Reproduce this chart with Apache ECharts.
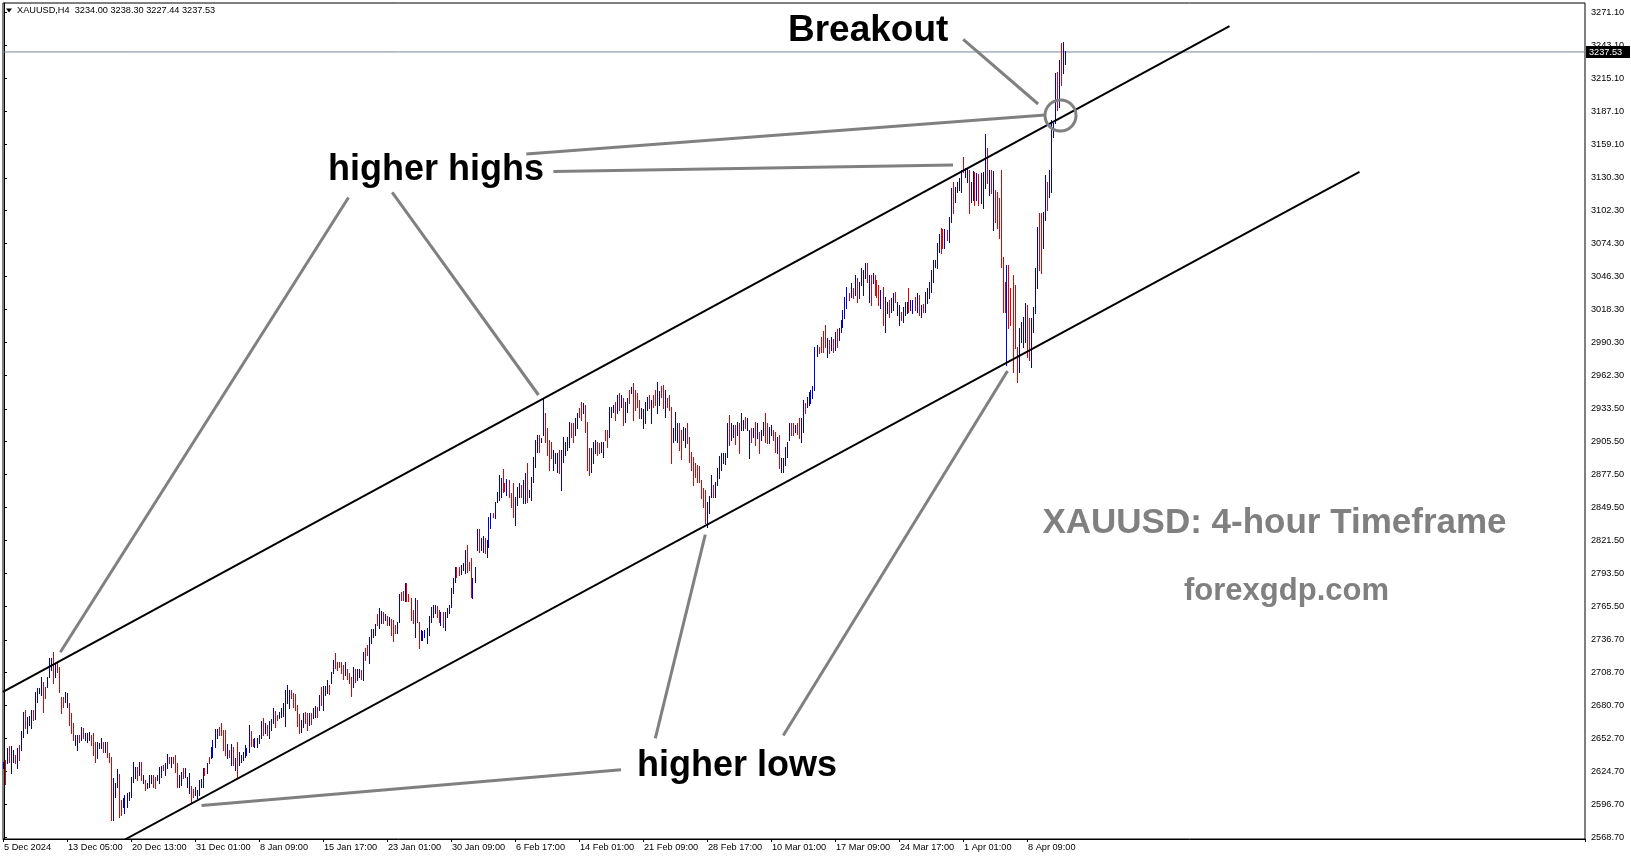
<!DOCTYPE html>
<html><head><meta charset="utf-8">
<script src="https://cdn.jsdelivr.net/npm/echarts@6/dist/echarts.min.js"></script>
<style>html,body{margin:0;padding:0;background:#fff}#c{width:1631px;height:861px}</style>
</head><body><div id="c"></div>
<script>
// ---------- data ----------
const timeLabels = ["5 Dec 2024","13 Dec 05:00","20 Dec 13:00","31 Dec 01:00","8 Jan 09:00","15 Jan 17:00","23 Jan 01:00","30 Jan 09:00","6 Feb 17:00","14 Feb 01:00","21 Feb 09:00","28 Feb 17:00","10 Mar 01:00","17 Mar 09:00","24 Mar 17:00","1 Apr 01:00","8 Apr 09:00"];
const priceTicks = [2568.70,2596.70,2624.70,2652.70,2680.70,2708.70,2736.70,2765.50,2793.50,2821.50,2849.50,2877.50,2905.50,2933.50,2962.30,2990.30,3018.30,3046.30,3074.30,3102.30,3130.30,3159.10,3187.10,3215.10,3243.10,3271.10];

const highs = [
2632.9,2634.3,2644.8,2646.2,2646.2,2642.8,2638.6,2644.8,2647.1,2659.0,
2675.5,2676.9,2671.2,2671.8,2676.9,2676.9,2692.5,2695.4,2695.4,2705.3,
2701.1,2696.8,2705.3,2720.9,2720.9,2726.6,2716.7,2718.1,2713.8,2688.3,
2688.3,2692.5,2691.1,2682.6,2674.1,2665.6,2655.6,2655.6,2655.6,2662.7,
2661.3,2657.0,2657.0,2658.5,2655.6,2657.0,2649.9,2649.9,2648.5,2652.8,
2649.9,2649.9,2649.9,2640.0,2637.2,2618.7,2614.4,2626.4,2622.4,2600.2,
2601.7,2604.5,2605.9,2607.3,2620.1,2632.9,2628.6,2628.6,2632.9,2632.9,
2621.5,2617.3,2614.4,2621.5,2621.5,2621.5,2620.1,2621.5,2628.6,2629.5,
2630.1,2631.5,2639.1,2637.2,2637.2,2637.2,2638.6,2631.5,2621.5,2624.4,
2627.2,2627.2,2620.1,2623.0,2612.2,2609.6,2611.6,2608.8,2617.3,2617.8,
2627.2,2627.2,2631.5,2637.2,2645.7,2651.4,
2660.5,2661.1,2662.8,2665.6,2659.9,2659.9,2648.0,2642.9,2648.0,2645.7,
2635.8,2650.0,2641.5,2638.6,2641.5,2647.1,2644.3,2664.2,2659.4,2652.3,
2652.8,2652.8,2655.7,2667.6,2670.4,2665.6,2664.2,2667.6,2669.0,2678.9,
2676.4,2672.7,2675.5,2678.9,2682.6,2694.0,2698.3,2694.0,2694.0,2691.2,
2690.6,2681.2,2673.6,2668.4,2674.7,2675.3,2674.7,2674.7,2674.1,2678.9,
2680.4,2679.8,2689.7,2696.8,2697.4,2697.4,2702.5,2698.3,2709.6,2719.6,
2725.2,2718.1,2718.1,2718.1,2715.3,2718.1,2711.6,2708.8,2705.4,2713.9,
2712.2,2712.2,2711.6,2711.0,2726.7,2729.5,2732.3,2739.4,2745.7,2746.0,
2750.2,2758.8,2763.6,2761.6,2760.7,2758.8,2757.3,2755.9,2754.2,2753.6,
2749.4,2752.2,2775.8,2777.8,2778.6,2785.4,2785.4,2775.8,2772.1,2762.2,
2772.1,2770.7,2752.2,2745.1,2744.6,2745.1,2746.5,2757.3,
2764.4,2766.4,2766.4,2765.5,2762.1,2760.7,2760.7,2760.7,2763.5,2766.4,
2780.6,2789.1,2799.0,2799.0,2799.0,2800.5,2802.4,2813.2,2817.5,2803.3,
2806.1,2789.1,2799.0,2830.8,2830.8,2823.2,2825.2,2823.2,2821.8,2841.6,
2844.5,2845.0,2854.4,2862.9,2877.1,2874.3,2882.0,2870.0,2873.4,2872.9,
2861.5,2870.6,2858.7,2867.2,2870.0,2868.6,2872.9,2878.6,2887.1,2864.4,
2875.7,2892.2,2907.0,2911.2,2911.2,2908.4,2941.6,2929.7,2916.9,2907.0,
2905.5,2898.4,2895.6,2895.6,2898.4,2898.4,2909.8,2905.5,2909.8,2922.6,
2921.2,2921.2,2925.4,2929.7,2933.9,2939.6,2938.2,2936.8,2922.6,2899.9,
2899.9,2905.5,2907.0,2905.5,2904.1,2905.5,2905.5,2915.5,2915.5,2935.4,
2935.4,2936.8,2939.6,2945.3,2946.7,2945.3,2942.5,2939.6,2942.5,2949.6,
2952.4,2955.2,2949.6,2946.7,2941.0,2933.9,
2933.0,2939.6,2943.8,2945.3,2941.0,2945.3,2949.5,2956.6,2949.0,2952.9,
2953.8,2949.5,2942.4,2945.3,2935.3,2916.9,2931.1,2921.1,2921.1,2915.4,
2917.7,2916.9,2921.1,2909.8,2897.0,2892.7,2887.0,2885.6,2884.8,2872.8,
2865.7,2864.3,2854.4,2859.2,2877.1,2868.6,2871.4,2882.8,2893.3,2896.1,
2895.6,2895.6,2921.1,2928.2,2921.7,2919.7,2919.7,2922.5,2921.1,2929.6,
2924.0,2926.8,2925.4,2915.4,2916.9,2916.9,2922.5,2921.1,2914.0,2915.4,
2922.5,2929.6,2921.1,2918.3,2919.7,2915.4,2914.0,2909.8,2911.2,2891.3,
2891.3,2901.2,2905.5,2921.1,2921.1,2921.1,2919.7,2921.1,2925.4,2925.4,
2941.0,2938.2,2943.8,2948.1,2949.5,2952.9,2985.9,2987.9,2986.4,2995.0,
3000.1,3004.9,2993.5,2992.1,2995.0,2992.7,2999.2,3001.2,3002.1,3009.2,
3017.7,3029.0,3037.6,3031.9,3040.4,
3036.2,3047.5,3044.7,3041.8,3053.2,3051.8,3057.5,3057.5,3047.5,3047.5,
3048.9,3047.5,3043.3,3039.0,3034.7,3037.6,3029.1,3024.8,3026.2,3027.6,
3031.9,3033.3,3024.8,3022.0,3016.3,3020.5,3024.8,3024.8,3036.2,3026.2,
3026.2,3029.1,3031.9,3030.5,3022.0,3022.5,3033.3,3036.2,3041.3,3051.8,
3060.3,3060.3,3074.5,3082.2,3087.3,3086.7,3086.7,3085.9,3097.2,3121.4,
3127.0,3122.8,3127.0,3129.9,3137.0,3148.3,3138.4,3138.4,3137.0,3127.0,
3136.1,3135.6,3134.7,3133.3,3134.1,3135.6,3167.4,3155.4,3137.0,3137.0,
3136.1,3119.9,3118.5,3112.8,3137.0,3063.1,3041.8,3056.0,3056.0,3036.2,
3047.5,3039.0,2986.5,3002.6,3007.8,3012.0,3023.4,3022.0,3010.6,3010.6,
3020.5,3053.2,3088.7,3100.1,3100.1,3101.5,3132.7,3127.0,3137.0,3179.6,
3176.7,3219.3,3220.8,3230.7,3244.9,3246.3,3238.3
];
const lows = [
2627.2,2613.6,2631.5,2632.9,2623.5,2632.9,2631.5,2627.2,2634.3,2642.8,
2654.2,2661.3,2657.0,2664.1,2661.3,2668.4,2669.0,2684.0,2691.1,2689.7,
2675.5,2686.9,2696.8,2705.3,2711.0,2699.6,2705.3,2709.6,2692.5,2674.1,
2679.8,2684.0,2679.8,2664.1,2657.0,2651.4,2647.1,2642.8,2649.9,2651.4,
2652.8,2651.4,2649.9,2651.4,2647.1,2638.6,2632.9,2635.7,2644.3,2644.3,
2641.4,2641.4,2637.2,2632.9,2583.2,2583.2,2603.1,2611.6,2586.0,2587.5,
2594.6,2589.4,2594.6,2600.2,2603.1,2615.9,2618.7,2617.3,2621.5,2617.3,
2614.4,2608.8,2610.2,2611.6,2614.4,2611.6,2610.2,2617.3,2614.4,2620.1,
2625.8,2621.5,2627.2,2631.5,2628.6,2631.5,2624.4,2611.6,2611.6,2613.0,
2618.7,2620.1,2611.6,2605.9,2597.4,2603.1,2604.5,2601.7,2604.5,2611.6,
2611.6,2621.5,2623.0,2631.5,2635.7,2637.2,
2645.7,2652.8,2655.7,2655.7,2642.9,2638.6,2635.8,2637.2,2630.1,2630.1,
2625.8,2618.7,2630.1,2632.9,2634.4,2637.2,2638.6,2641.5,2646.3,2646.3,
2645.7,2645.2,2648.6,2652.8,2655.7,2657.1,2655.7,2652.8,2659.9,2665.6,
2662.8,2668.4,2669.9,2671.3,2671.8,2663.3,2682.6,2678.4,2686.9,2679.8,
2677.0,2663.3,2657.1,2658.5,2662.2,2665.6,2659.9,2664.2,2665.0,2670.4,
2671.3,2671.3,2677.0,2681.2,2677.0,2689.7,2691.2,2690.6,2700.2,2708.2,
2712.5,2711.0,2713.9,2708.2,2703.1,2706.8,2703.1,2699.7,2688.9,2696.8,
2701.1,2702.5,2704.8,2703.1,2702.5,2719.6,2723.8,2716.7,2733.8,2739.4,
2740.9,2749.4,2746.5,2750.8,2750.8,2753.6,2749.4,2749.4,2740.9,2736.0,
2742.3,2742.3,2752.2,2770.7,2770.7,2770.1,2770.1,2770.1,2753.6,2750.8,
2739.4,2752.2,2729.5,2736.6,2736.6,2738.9,2733.8,2740.9,
2752.2,2756.4,2759.3,2756.4,2752.2,2749.3,2747.9,2745.1,2756.4,2759.3,
2765.0,2776.3,2786.3,2790.5,2791.9,2792.8,2796.2,2793.4,2794.8,2796.2,
2773.5,2772.1,2786.3,2813.2,2811.8,2813.2,2811.8,2810.4,2807.0,2816.1,
2831.7,2841.6,2840.2,2854.4,2855.8,2858.7,2862.9,2863.8,2860.1,2858.7,
2850.2,2841.1,2834.5,2851.6,2858.7,2858.7,2853.6,2853.0,2854.4,2858.7,
2855.8,2871.5,2884.2,2897.0,2897.0,2905.5,2911.2,2905.5,2894.2,2881.4,
2891.3,2881.4,2887.1,2880.0,2878.6,2864.4,2888.5,2894.2,2898.4,2901.3,
2909.8,2905.5,2911.2,2916.9,2926.8,2924.0,2929.7,2914.1,2881.4,2877.1,
2880.0,2887.1,2895.6,2894.2,2895.6,2897.0,2892.8,2907.0,2901.3,2909.8,
2926.8,2931.1,2924.0,2929.7,2932.5,2935.4,2919.7,2922.6,2931.1,2938.2,
2946.7,2924.0,2932.5,2935.4,2925.4,2925.4,
2916.9,2921.1,2932.5,2933.9,2921.1,2935.3,2936.7,2929.6,2936.7,2943.8,
2933.9,2926.8,2935.3,2932.5,2887.0,2905.5,2906.9,2905.5,2898.4,2890.4,
2906.9,2901.2,2904.1,2888.5,2881.4,2868.6,2875.7,2871.4,2871.4,2857.2,
2850.1,2835.9,2833.1,2844.4,2858.6,2858.6,2858.6,2868.6,2874.3,2881.4,
2887.0,2886.5,2892.7,2902.7,2906.9,2909.8,2903.5,2911.2,2895.6,2915.4,
2915.4,2916.9,2915.4,2891.3,2905.5,2909.8,2902.7,2908.3,2895.6,2906.9,
2911.2,2905.5,2904.1,2904.1,2911.2,2906.9,2897.0,2895.6,2882.8,2879.9,
2879.9,2885.6,2892.7,2906.9,2911.2,2911.2,2914.0,2912.0,2908.3,2905.5,
2914.0,2929.6,2935.3,2936.7,2938.2,2942.4,2949.5,2978.5,2980.8,2982.2,
2982.2,2986.4,2977.9,2980.8,2983.6,2982.2,2983.6,2986.4,2992.1,2999.2,
3002.9,3010.6,3019.1,3026.2,3029.0,
3027.6,3030.5,3024.8,3027.6,3039.0,3030.5,3044.7,3041.8,3024.8,3022.0,
3040.4,3030.5,3029.1,3022.0,3019.1,3004.9,2999.2,3014.9,3012.0,3016.3,
3017.7,3024.8,3013.4,3004.9,3009.2,3007.8,3013.4,3014.9,3016.3,3017.7,
3014.9,3017.7,3016.3,3013.4,3012.0,3016.3,3016.3,3023.4,3027.6,3033.3,
3041.8,3054.6,3053.2,3067.4,3066.0,3070.2,3070.2,3077.3,3075.9,3093.0,
3100.1,3110.0,3118.5,3119.9,3118.5,3135.6,3131.3,3127.0,3100.1,3110.0,
3111.4,3107.2,3111.4,3107.2,3108.6,3104.3,3121.4,3125.6,3115.7,3117.1,
3085.9,3093.0,3087.3,3078.8,3054.6,3016.3,3016.3,2970.8,3002.1,3004.9,
2965.2,2985.0,2956.6,2965.2,2990.7,2986.5,2990.7,2977.9,2975.1,2969.4,
2999.2,3014.9,3036.2,3051.8,3048.9,3070.2,3094.4,3102.9,3114.3,3118.5,
3165.4,3176.7,3188.1,3190.9,3209.4,3219.3,3227.44
];
// 1 = up bar (blue), 0 = down bar (red)
const barUp = [
1,0,1,0,1,1,0,1,0,1, 1,0,1,1,1,0,1,1,1,1, 0,0,1,1,1,0,1,0,0,0, 0,1,1,0,0,0,1,1,0,1,
0,1,1,1,0,0,0,1,1,1, 0,1,0,0,0,1,1,1,0,0, 1,1,1,1,1,1,1,0,1,0, 1,0,1,1,1,0,0,1,1,1,
0,1,1,0,1,0,0,0,1,1, 0,1,1,1,0,0,1,1,1,1, 1,0,1,0,1,1,
1,1,0,0,0,0,1,0,1,0, 1,0,1,1,1,1,1,1,0,0, 1,1,1,1,0,1,0,1,1,1, 0,0,1,1,1,1,1,1,0,0,
0,0,0,1,1,0,0,1,0,1, 1,0,1,0,1,1,1,0,1,1, 0,0,0,0,0,1,0,0,0,1, 0,1,1,0,1,0,0,1,1,1,
1,0,1,1,0,1,0,1,0,0, 0,1,1,0,0,1,0,0,0,0, 1,0,0,1,1,1,1,1,
1,1,1,0,0,1,0,1,1,1, 1,1,1,0,0,1,1,1,0,0, 0,1,1,1,0,1,1,0,1,1, 1,0,1,1,1,1,0,0,1,0,
0,0,1,1,1,0,1,1,0,1, 1,1,1,1,0,1,1,0,0,0, 0,1,1,1,0,1,1,1,1,1, 0,0,1,1,0,0,1,0,0,0,
1,1,1,0,0,1,1,0,0,1, 1,1,0,1,0,1,0,1,1,0, 1,0,0,0,0,1,
1,1,1,0,1,0,0,1,1,0, 0,1,0,0,0,1,1,1,0,0, 1,1,0,0,0,0,0,0,0,0, 0,0,1,1,1,0,1,1,1,1,
1,1,1,0,1,1,0,1,0,1, 1,0,1,1,0,1,0,1,0,1, 1,0,0,1,1,0,0,1,0,1, 1,1,1,1,0,0,1,0,0,1,
1,0,1,1,1,1,1,1,0,0, 0,0,1,0,1,0,1,0,1,1, 1,1,1,0,1,
0,1,0,1,1,1,1,0,1,0, 1,0,0,0,1,0,1,1,0,1, 1,0,1,1,0,1,1,1,0,1, 1,0,1,0,1,0,1,1,1,1,
1,1,1,1,0,0,1,0,1,1, 0,1,1,1,1,0,1,1,0,1, 1,0,1,0,1,1,1,0,1,0, 1,0,0,0,0,0,0,1,0,0,
0,0,0,1,1,1,1,0,0,1, 1,1,1,0,0,1,1,0,1,1, 1,1,0,1,0,1,1
];
const symbolName = "XAUUSD,H4";
const lastOHLC = [3234.00, 3238.30, 3227.44, 3237.53];
const bidPrice = 3237.53;
// trendlines in (bar index, price)
const upperChannel = [[-0.5, 2692.3], [612.75, 3259.6]];
const lowerChannel = [[60, 2566.2], [677.75, 3135.4]];
const pointerLines = [
  [[479.6, 3248.2], [517.05, 3193.2]],
  [[261.15, 3150.6], [520.5, 3183.8]],
  [[274.7, 3135.6], [474.5, 3141.2]],
  [[172.25, 3113.5], [28.15, 2726.2]],
  [[194.1, 3117.9], [267.25, 2945.3]],
  [[308.5, 2626.0], [98.75, 2595.6]],
  [[325.65, 2652.7], [350.65, 2826.3]],
  [[389.65, 2655.3], [501.75, 2965.7]]
];
const breakoutCircle = [528.25, 3183.4];

// ---------- chart ----------
const SLOTS = 791, LABEL_EVERY = 32;
const UP = '#0000cc', DOWN = '#e60000';
const xCats = Array.from({length: SLOTS}, (_, i) =>
  (i % LABEL_EVERY === 0 && timeLabels[i / LABEL_EVERY] !== undefined) ? timeLabels[i / LABEL_EVERY] : '');
const n = Math.min(highs.length, lows.length, barUp.length);
const bars = [];
for (let i = 0; i < n; i++) bars.push([i, highs[i], lows[i], barUp[i]]);

const chart = echarts.init(document.getElementById('c'), null, {renderer: 'canvas'});
const FONT = "'Liberation Sans', Arial, sans-serif";
const lineSeries = (data, color, width, z) => ({
  type: 'line', xAxisIndex: 1, yAxisIndex: 0, data, showSymbol: false, symbol: 'none',
  lineStyle: {color, width}, silent: true, z, clip: true, animation: false
});
const series = [
  lineSeries([[-0.5, bidPrice], [SLOTS - 0.5, bidPrice]], '#778899', 1, 1),
  {
    type: 'custom', xAxisIndex: 0, yAxisIndex: 0, data: bars, z: 3, clip: true,
    encode: {x: 0, y: [1, 2]},
    renderItem: (params, api) => {
      const i = api.value(0);
      const t = api.coord([i, api.value(1)]);
      const b = api.coord([i, api.value(2)]);
      const x = Math.floor(t[0]) - 0.5;
      const y0 = Math.round(t[1]), y1 = Math.round(b[1]) + 1;
      return {type: 'line', shape: {x1: x, y1: y0, x2: x, y2: Math.max(y0 + 1, y1)},
        style: {stroke: api.value(3) ? UP : DOWN, lineWidth: 1}};
    }
  },
  lineSeries(upperChannel, '#000', 2, 4),
  lineSeries(lowerChannel, '#000', 2, 4)
];
pointerLines.forEach(seg => series.push(lineSeries(seg, '#808080', 3, 5)));

chart.setOption({
  animation: false,
  backgroundColor: '#fff',
  grid: {left: 3, right: 46, top: 3, bottom: 22, show: true, borderColor: '#000', borderWidth: 1, containLabel: false},
  xAxis: [{
    type: 'category', data: xCats, boundaryGap: true, position: 'bottom',
    axisLine: {show: true, lineStyle: {color: '#000', width: 1}},
    axisTick: {show: true, length: 3, interval: (i, v) => v !== '', lineStyle: {color: '#000'}},
    axisLabel: {show: true, interval: (i, v) => v !== '', align: 'left', margin: 4,
      fontSize: 9.2, fontFamily: FONT, color: '#000'},
    splitLine: {show: false}
  }, {
    type: 'value', min: -0.5, max: SLOTS - 0.5, show: false, position: 'top'
  }],
  yAxis: [{
    type: 'value', position: 'right', min: 2567.06, max: 3279.24, scale: true,
    axisLine: {show: true, lineStyle: {color: '#000', width: 1}},
    axisTick: {show: true, length: 3, customValues: priceTicks, lineStyle: {color: '#000'}},
    axisLabel: {show: true, customValues: priceTicks, formatter: v => v.toFixed(2), margin: 6,
      fontSize: 9.2, fontFamily: FONT, color: '#000', align: 'left'},
    splitLine: {show: false}
  }],
  series
});

const yBid = chart.convertToPixel({yAxisIndex: 0}, bidPrice);
const circ = chart.convertToPixel({xAxisIndex: 1, yAxisIndex: 0}, breakoutCircle);
const BOLD = (size, color) => ({fontFamily: FONT, fontWeight: 'bold', fontSize: size, fill: color});
chart.setOption({
  graphic: [
    {type: 'circle', shape: {cx: circ[0], cy: circ[1], r: 15.5}, style: {fill: 'none', stroke: '#808080', lineWidth: 3}, z: 100},
    {type: 'polygon', shape: {points: [[6, 8.5], [12, 8.5], [9, 12.5]]}, style: {fill: '#000'}, z: 100},
    {type: 'text', x: 17, y: 10, style: {text: symbolName + '  ' + lastOHLC.map(v => v.toFixed(2)).join(' '),
      fontFamily: FONT, fontSize: 9.2, fill: '#000', verticalAlign: 'middle'}, z: 100},
    {type: 'rect', shape: {x: 1586, y: Math.round(yBid) - 6, width: 44, height: 12}, style: {fill: '#000'}, z: 100},
    {type: 'text', x: 1589, y: Math.round(yBid), style: {text: bidPrice.toFixed(2), fontFamily: FONT, fontSize: 9.2,
      fill: '#fff', verticalAlign: 'middle'}, z: 101},
    {type: 'text', x: 788, y: 31, style: Object.assign(BOLD(37, '#000'), {text: 'Breakout', verticalAlign: 'middle'}), z: 100},
    {type: 'text', x: 328, y: 170.5, style: Object.assign(BOLD(36, '#000'), {text: 'higher highs', verticalAlign: 'middle'}), z: 100},
    {type: 'text', x: 637, y: 766, style: Object.assign(BOLD(36, '#000'), {text: 'higher lows', verticalAlign: 'middle'}), z: 100},
    {type: 'text', x: 1274.5, y: 523, style: Object.assign(BOLD(35, '#808080'), {text: 'XAUUSD: 4-hour Timeframe', align: 'center', verticalAlign: 'middle'}), z: 100},
    {type: 'text', x: 1286.5, y: 591, style: Object.assign(BOLD(31, '#808080'), {text: 'forexgdp.com', align: 'center', verticalAlign: 'middle'}), z: 100}
  ]
});
</script>
</body></html>
